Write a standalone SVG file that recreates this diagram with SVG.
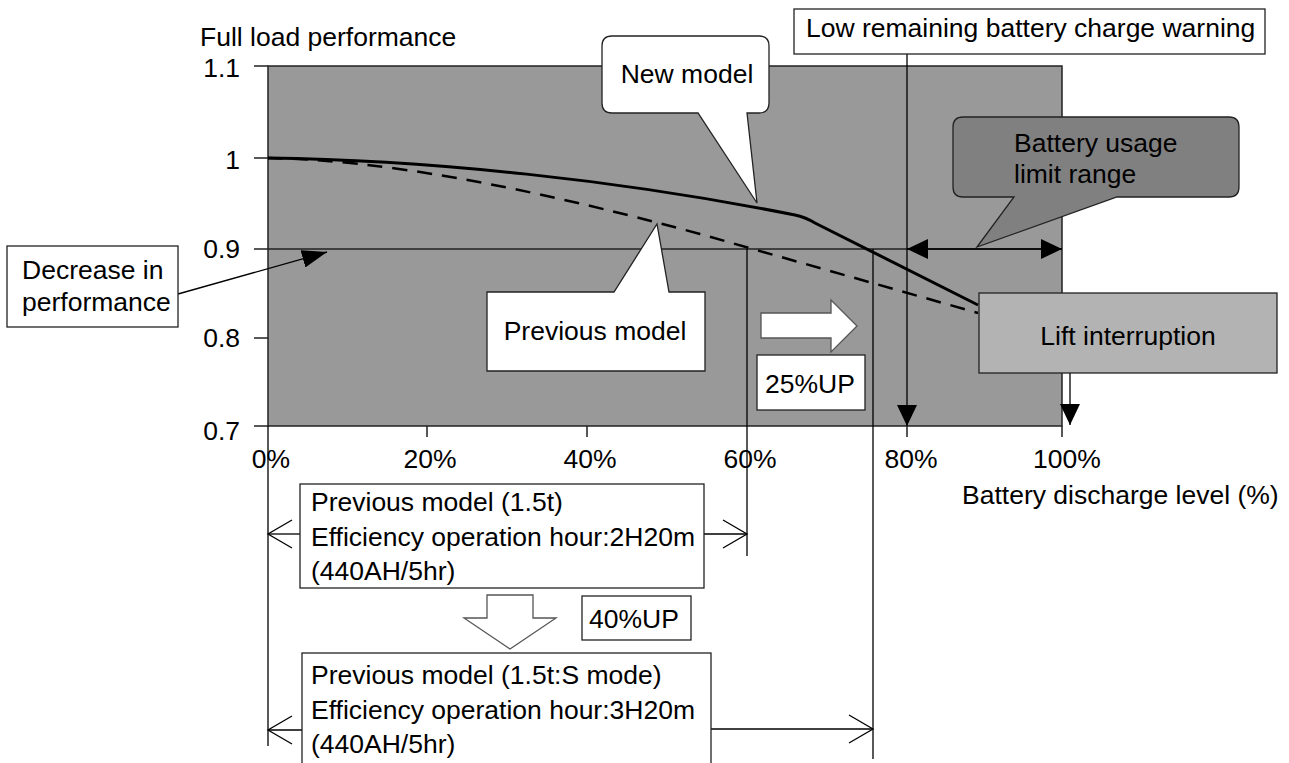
<svg xmlns="http://www.w3.org/2000/svg" width="1289" height="763" viewBox="0 0 1289 763">
<defs>
<style>
text{font-family:"Liberation Sans",Arial,sans-serif;font-size:26.5px;fill:#000}
.ln{stroke:#000;stroke-width:1.3;fill:none}
.ax{stroke:#222;stroke-width:1.5;fill:none}
.box{fill:#fff;stroke:#222;stroke-width:1.3}
.mid{text-anchor:middle}
.end{text-anchor:end}
</style>
<marker id="fa" markerUnits="userSpaceOnUse" markerWidth="22" markerHeight="20" refX="21" refY="10" orient="auto-start-reverse"><path d="M0,0 L21,10 L0,20 Z" fill="#000"/></marker>
<marker id="fb" markerUnits="userSpaceOnUse" markerWidth="26" markerHeight="18" refX="25" refY="9" orient="auto"><path d="M0,0 L25,9 L0,18 Z" fill="#000"/></marker>
<marker id="oa" markerUnits="userSpaceOnUse" markerWidth="27" markerHeight="30" refX="25" refY="15" orient="auto"><path d="M1,1 L25,15 L1,29" fill="none" stroke="#000" stroke-width="1.3"/></marker>
</defs>
<rect width="1289" height="763" fill="#fff"/>

<g id="axes">
  <rect x="268" y="66" width="794" height="360" fill="#999999" stroke="#222" stroke-width="1.5"/>
  <path class="ax" d="M254,66 H268 M254,158 H268 M254,249 H1062 M254,338 H268 M254,426 H268"/>
  <path class="ax" d="M427,426 V437 M587,426 V437 M907,426 V437 M1062,426 V437"/>
  <text x="200" y="46">Full load performance</text>
  <text class="end" x="240" y="77">1.1</text>
  <text class="end" x="240" y="169">1</text>
  <text class="end" x="240" y="258">0.9</text>
  <text class="end" x="240" y="347">0.8</text>
  <text class="end" x="240" y="440">0.7</text>
  <text class="mid" x="271" y="468">0%</text>
  <text class="mid" x="430" y="468">20%</text>
  <text class="mid" x="590" y="468">40%</text>
  <text class="mid" x="750" y="468">60%</text>
  <text class="mid" x="911" y="468">80%</text>
  <text class="mid" x="1067" y="468">100%</text>
  <text x="962" y="504">Battery discharge level (%)</text>
</g>

<g id="curves">
  <path d="M268,158 C430,160 620,180 795,215 Q805,217 815,223 L978,305" fill="none" stroke="#000" stroke-width="3"/>
  <path d="M268,158 C380,160 520,185 700,234 L978,313" fill="none" stroke="#000" stroke-width="2.5" stroke-dasharray="15,10"/>
</g>

<g id="connectors">
  <line class="ln" x1="178" y1="294" x2="327" y2="252" marker-end="url(#fb)"/>
  <line class="ln" x1="907" y1="54" x2="907" y2="426" marker-end="url(#fa)"/>
  <line class="ln" x1="1070" y1="373" x2="1070" y2="425" marker-end="url(#fa)"/>
  <line class="ln" x1="907" y1="249" x2="1062" y2="249" marker-start="url(#fa)" marker-end="url(#fa)"/>
  <line class="ln" x1="747" y1="249" x2="747" y2="556"/>
  <line class="ln" x1="873" y1="249" x2="873" y2="759"/>
  <line class="ln" x1="268" y1="426" x2="268" y2="746"/>
  <line class="ln" x1="300" y1="534" x2="268" y2="534" marker-end="url(#oa)"/>
  <line class="ln" x1="704" y1="534" x2="747" y2="534" marker-end="url(#oa)"/>
  <line class="ln" x1="302" y1="730" x2="268" y2="730" marker-end="url(#oa)"/>
  <line class="ln" x1="711" y1="729" x2="873" y2="729" marker-end="url(#oa)"/>
</g>

<g id="new-model">
  <path class="box" d="M612,36 H759 Q769,36 769,46 V103 Q769,113 759,113 H747 L757,203 L698,113 H612 Q602,113 602,103 V46 Q602,36 612,36 Z"/>
  <text class="mid" x="687" y="83">New model</text>
</g>

<g id="previous-model">
  <path class="box" d="M487,292 H614 L657,224 L669,292 H705 V371 H487 Z"/>
  <text class="mid" x="595" y="340">Previous model</text>
</g>

<g id="warning">
  <rect class="box" x="794" y="9" width="471" height="45"/>
  <text x="806" y="37">Low remaining battery charge warning</text>
</g>

<g id="usage-limit">
  <path d="M963,117 H1229 Q1239,117 1239,127 V187 Q1239,197 1229,197 H1117 L977,247 L1014,197 H963 Q953,197 953,187 V127 Q953,117 963,117 Z" fill="#808080" stroke="#222" stroke-width="1.3"/>
  <text x="1014" y="152">Battery usage</text>
  <text x="1014" y="183">limit range</text>
</g>

<g id="lift-interruption">
  <rect x="979" y="293" width="298" height="80" fill="#b3b3b3" stroke="#222" stroke-width="1.3"/>
  <text class="mid" x="1128" y="345">Lift interruption</text>
</g>

<g id="decrease">
  <rect class="box" x="7" y="246" width="171" height="81"/>
  <text x="22" y="279">Decrease in</text>
  <text x="22" y="311">performance</text>
</g>

<g id="up25">
  <path d="M761,313 H831 V300 L857,326 L831,352 V338 H761 Z" fill="#fff" stroke="#555" stroke-width="1.3"/>
  <rect class="box" x="757" y="355" width="108" height="55"/>
  <text x="765" y="393">25%UP</text>
</g>

<g id="box-prev">
  <rect class="box" x="300" y="484" width="404" height="104"/>
  <text x="311" y="511">Previous model (1.5t)</text>
  <text x="311" y="546">Efficiency operation hour:2H20m</text>
  <text x="311" y="580">(440AH/5hr)</text>
</g>

<g id="up40">
  <path d="M487,595 H533 V618 H556 L510,649 L464,618 H487 Z" fill="#fff" stroke="#555" stroke-width="1.3"/>
  <rect class="box" x="582" y="596" width="109" height="44"/>
  <text x="589" y="628">40%UP</text>
</g>

<g id="box-smode">
  <rect class="box" x="302" y="653" width="409" height="120"/>
  <text x="311" y="684">Previous model (1.5t:S mode)</text>
  <text x="311" y="719">Efficiency operation hour:3H20m</text>
  <text x="311" y="753">(440AH/5hr)</text>
</g>
</svg>
